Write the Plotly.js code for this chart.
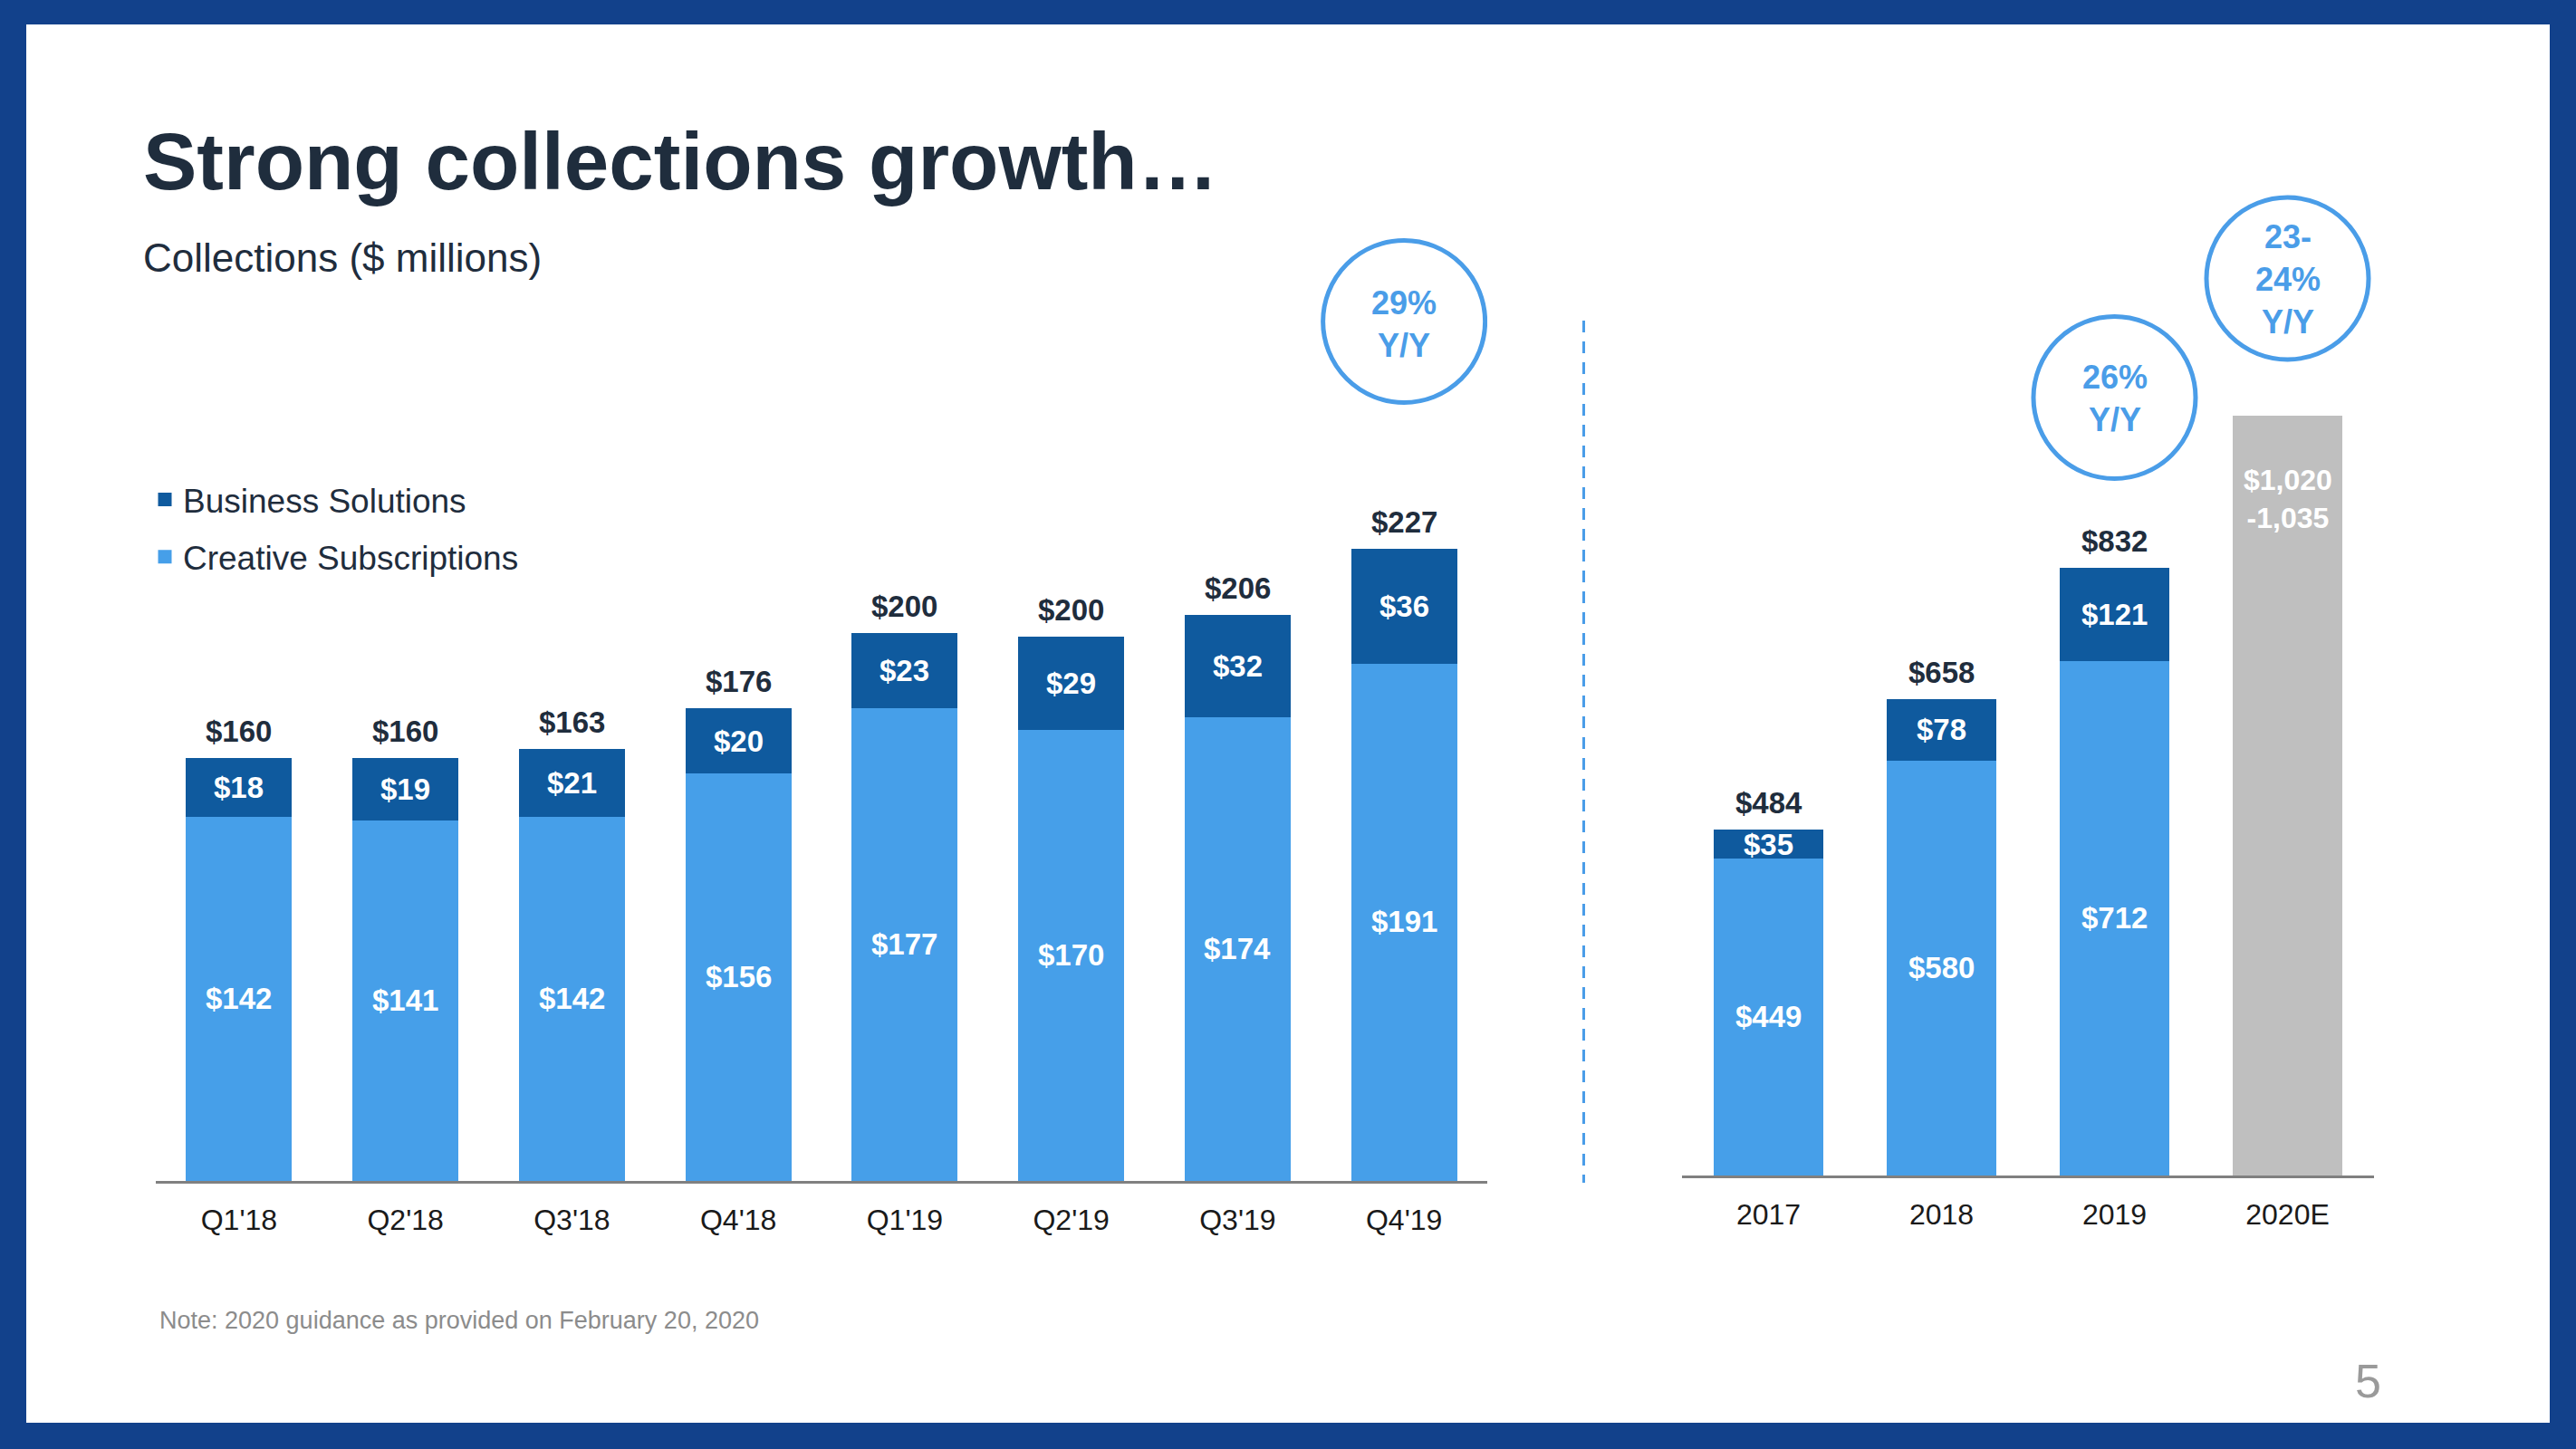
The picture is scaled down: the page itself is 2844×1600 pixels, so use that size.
<!DOCTYPE html>
<html>
<head>
<meta charset="utf-8">
<script src="https://cdn.plot.ly/plotly-3.0.1.min.js"></script>
<style>
  html, body { margin: 0; padding: 0; background: #12418B; }
  #chart { width: 2844px; height: 1600px; }
</style>
</head>
<body>
<div id="chart"></div>
<script>
// ---------- data ----------
const quarters = ["Q1'18", "Q2'18", "Q3'18", "Q4'18", "Q1'19", "Q2'19", "Q3'19", "Q4'19"];
const creativeQ = [142, 141, 142, 156, 177, 170, 174, 191];
const businessQ = [18, 19, 21, 20, 23, 29, 32, 36];
const totalQ = [160, 160, 163, 176, 200, 200, 206, 227];

const years = ["2017", "2018", "2019"];
const creativeY = [449, 580, 712];
const businessY = [35, 78, 121];
const totalY = [484, 658, 832];

const guidanceYear = "2020E";
const guidanceLow = 1020;
const guidanceHigh = 1035;
const guidanceLabel = "$1,020<br>-1,035";

const growthQ = "29%<br>Y/Y";
const growth2019 = "26%<br>Y/Y";
const growth2020 = "23-<br>24%<br>Y/Y";

const seriesNames = ["Business Solutions", "Creative Subscriptions"];

// ---------- style ----------
const W = 2844, H = 1600;
const FONT = "Liberation Sans, Arial, Helvetica, sans-serif";
const C_CREATIVE = "#469FE9";
const C_BUSINESS = "#0F5A9E";
const C_GUIDE = "#BFBFBF";
const C_DARK = "#1F2D3D";
const C_RING = "#4A9DE8";
const px = v => v / W;
const py = v => 1 - v / H;

const yRangeL = [25.1, 334.8];
const yRangeR = [26, 1305.5];
const catsR = years.concat([guidanceYear]);
const fmt = v => "$" + v.toLocaleString("en-US");
const BW = 0.62;

// ---------- traces ----------
const barMarker = c => ({ color: c, line: { color: c, width: 3 } });
const traces = [
  { type: "bar", name: seriesNames[1], x: quarters, y: creativeQ, xaxis: "x", yaxis: "y",
    marker: barMarker(C_CREATIVE), width: BW, legendgroup: "c", legendrank: 2, hoverinfo: "skip" },
  { type: "bar", name: seriesNames[0], x: quarters, y: businessQ, xaxis: "x", yaxis: "y",
    marker: barMarker(C_BUSINESS), width: BW, legendgroup: "b", legendrank: 1, hoverinfo: "skip" },
  { type: "bar", name: seriesNames[1], x: years, y: creativeY, xaxis: "x2", yaxis: "y2",
    marker: barMarker(C_CREATIVE), width: BW, showlegend: false, hoverinfo: "skip" },
  { type: "bar", name: seriesNames[0], x: years, y: businessY, xaxis: "x2", yaxis: "y2",
    marker: barMarker(C_BUSINESS), width: BW, showlegend: false, hoverinfo: "skip" },
  { type: "bar", name: "Guidance", x: [guidanceYear], y: [guidanceHigh], xaxis: "x2", yaxis: "y2",
    marker: barMarker(C_GUIDE), width: BW, showlegend: false, hoverinfo: "skip" }
];

// ---------- annotations (category axes take category index positions) ----------
const ann = [];
function lbl(xref, yref, x, y, text, size, color, bold, yshift) {
  ann.push({ xref, yref, x, y, text: bold ? "<b>" + text + "</b>" : text, showarrow: false,
    font: { family: FONT, size, color }, xanchor: "center", yanchor: "middle", yshift: yshift || 0 });
}
quarters.forEach((q, i) => {
  const top = creativeQ[i] + businessQ[i];
  lbl("x", "y", i, top, fmt(totalQ[i]), 33, C_DARK, true, 31);
  lbl("x", "y", i, creativeQ[i] + businessQ[i] / 2, fmt(businessQ[i]), 33, "#FFFFFF", true, 0);
  lbl("x", "y", i, (yRangeL[0] + creativeQ[i]) / 2, fmt(creativeQ[i]), 33, "#FFFFFF", true, 0);
});
years.forEach((yr, i) => {
  const top = creativeY[i] + businessY[i];
  lbl("x2", "y2", i, top, fmt(totalY[i]), 33, C_DARK, true, 31);
  lbl("x2", "y2", i, creativeY[i] + businessY[i] / 2, fmt(businessY[i]), 33, "#FFFFFF", true, 0);
  lbl("x2", "y2", i, (yRangeR[0] + creativeY[i]) / 2, fmt(creativeY[i]), 33, "#FFFFFF", true, 0);
});
const gi = catsR.indexOf(guidanceYear);
lbl("x2", "y2", gi, guidanceHigh, guidanceLabel, 32, "#FFFFFF", true, -90);

// growth callouts
lbl("x", "paper", quarters.length - 1, py(358), growthQ, 36, C_RING, true, 0);
lbl("x2", "paper", years.length - 1, py(440), growth2019, 36, C_RING, true, 0);
lbl("x2", "paper", gi, py(308), growth2020, 36, C_RING, true, 0);

// texts
ann.push({ xref: "paper", yref: "paper", x: px(156), y: py(285), xanchor: "left", yanchor: "middle",
  text: "Collections ($ millions)", showarrow: false, font: { family: FONT, size: 44, color: C_DARK } });
ann.push({ xref: "paper", yref: "paper", x: px(174), y: py(1458), xanchor: "left", yanchor: "middle",
  text: "Note: 2020 guidance as provided on February 20, 2020", showarrow: false,
  font: { family: FONT, size: 27, color: "#8C8C8C" } });
ann.push({ xref: "paper", yref: "paper", x: px(2614), y: py(1525), xanchor: "center", yanchor: "middle",
  text: "5", showarrow: false, font: { family: FONT, size: 52, color: "#9A9A9A" } });

// ---------- shapes ----------
function ring(xref, idx, cy) {
  return { type: "circle", xref, yref: "paper", xsizemode: "pixel", ysizemode: "pixel",
    xanchor: idx, yanchor: py(cy), x0: -89.5, x1: 89.5, y0: -89.5, y1: 89.5,
    line: { color: C_RING, width: 5 }, fillcolor: "rgba(0,0,0,0)", layer: "above" };
}
const shapes = [
  { type: "rect", xref: "paper", yref: "paper", x0: px(29), x1: px(2815), y0: py(1571), y1: py(27),
    fillcolor: "#FFFFFF", line: { width: 0 }, layer: "below" },
  { type: "line", xref: "paper", yref: "paper", x0: px(1748.5), x1: px(1748.5), y0: py(354), y1: py(1306),
    line: { color: C_RING, width: 3, dash: "13px,10px" } },
  ring("x", quarters.length - 1, 355),
  ring("x2", years.length - 1, 439),
  ring("x2", gi, 307.5)
];

const axisX = {
  type: "category", showline: true, linecolor: "#808080", linewidth: 3, ticks: "outside",
  ticklen: 13, tickcolor: "rgba(0,0,0,0)", showgrid: false, zeroline: false, fixedrange: true,
  tickfont: { family: FONT, size: 32, color: "#1A1A1A" }
};

const layout = {
  width: W, height: H, autosize: false,
  margin: { l: 0, r: 0, t: 0, b: 0, pad: 0 },
  paper_bgcolor: "#12418B", plot_bgcolor: "rgba(0,0,0,0)",
  barmode: "stack", hovermode: false,
  title: { text: "<b>Strong collections growth…</b>", xref: "paper", yref: "paper",
    x: px(158), xanchor: "left", y: py(178), yanchor: "middle",
    font: { family: FONT, size: 89, color: C_DARK } },
  xaxis: Object.assign({}, axisX, { domain: [px(172), px(1642)], anchor: "y",
    categoryorder: "array", categoryarray: quarters, range: [-0.5, quarters.length - 0.5] }),
  yaxis: { domain: [py(1304), py(236)], range: yRangeL, visible: false, fixedrange: true, anchor: "x" },
  xaxis2: Object.assign({}, axisX, { domain: [px(1857), px(2621)], anchor: "y2",
    categoryorder: "array", categoryarray: catsR, range: [-0.5, catsR.length - 0.5] }),
  yaxis2: { domain: [py(1298), py(236)], range: yRangeR, visible: false, fixedrange: true, anchor: "x2" },
  showlegend: true,
  legend: { x: px(162), y: py(521), xanchor: "left", yanchor: "top", traceorder: "grouped",
    tracegroupgap: 12, bgcolor: "rgba(0,0,0,0)", itemclick: false, itemdoubleclick: false,
    font: { family: FONT, size: 37, color: C_DARK } },
  annotations: ann,
  shapes: shapes
};

Plotly.newPlot("chart", traces, layout, { staticPlot: true, displayModeBar: false });
</script>
</body>
</html>
